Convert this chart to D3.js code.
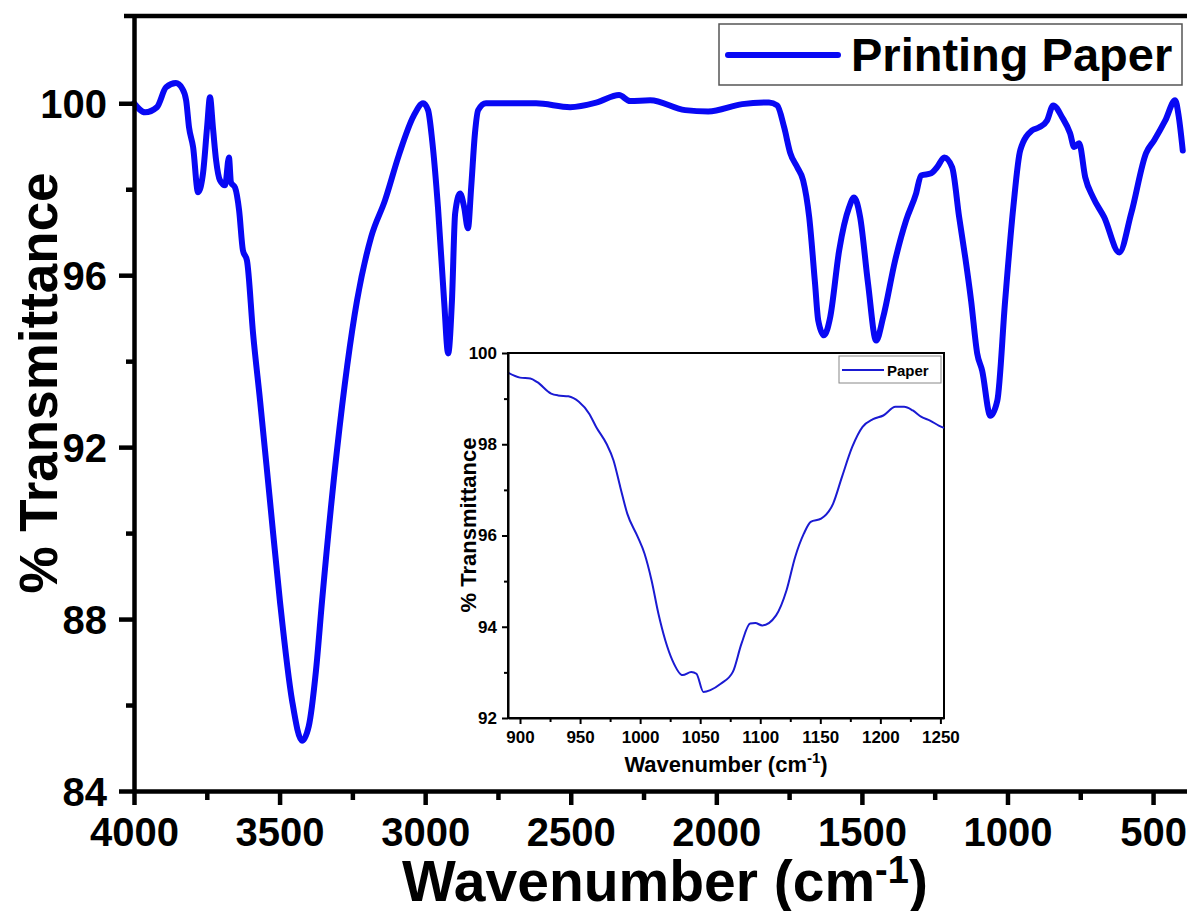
<!DOCTYPE html>
<html>
<head>
<meta charset="utf-8">
<script src="https://cdn.jsdelivr.net/npm/d3@7"></script>
<style>
    body { margin: 0; background: #fff; }
    svg { display: block; font-family: "Liberation Sans", Arial, sans-serif; font-weight: bold; }
</style>
</head>
<body>
<svg id="chart" width="1187" height="911"></svg>
<script>
"use strict";

// main FTIR spectrum (wavenumber, % transmittance)
var mainWavenumber = [4000, 3962, 3921, 3890, 3856, 3835, 3821, 3811, 3797, 3780, 3763, 3749, 3739, 3729, 3718, 3705,
    3687, 3674, 3667, 3653, 3639, 3626, 3612, 3591, 3567, 3533, 3499, 3457, 3423, 3400, 3375, 3354, 3303, 3234, 3185,
    3138, 3090, 3040, 3007, 2990, 2976, 2956, 2935, 2921, 2908, 2897, 2880, 2866, 2853, 2842, 2829, 2818,
    2791, 2619, 2502, 2410, 2334, 2296, 2227, 2107, 2028, 1911, 1819, 1791, 1767, 1746, 1722, 1702, 1681, 1661, 1650,
    1630, 1609, 1578, 1544, 1527, 1506, 1479, 1451, 1427, 1386, 1348, 1314, 1297, 1262, 1242, 1217, 1190, 1166, 1145,
    1125, 1104, 1087, 1059, 1035, 1008, 980, 956, 915, 891, 864, 843, 812, 785, 771, 754, 733, 706, 668, 616, 575, 524,
    496, 458, 424, 412, 398];
var mainTransmittance = [100.0, 99.79, 99.91, 100.37, 100.47, 100.35, 100.07, 99.44, 98.98, 97.93, 98.37, 99.44, 100.14,
    99.44, 98.67, 98.21, 98.09, 98.74, 98.16, 98.04, 97.51, 96.58, 96.34, 94.64, 93.08, 90.75, 88.43, 86.1, 85.17,
    85.5, 86.8, 88.43, 91.92, 95.41, 96.9, 97.74, 98.8, 99.7, 100.0, 99.84, 99.14, 97.58, 95.41, 94.18, 95.41,
    97.44, 97.9, 97.58, 97.09, 98.04, 99.3, 99.84, 100.0, 100.0, 99.91, 100.02, 100.19, 100.05, 100.07, 99.84, 99.81,
    99.98, 100.02, 99.95, 99.44, 98.84, 98.51, 98.21, 97.35, 95.81, 94.95, 94.6, 95.02, 96.58, 97.58, 97.81, 97.35, 95.81,
    94.48, 95.02, 96.34, 97.28, 97.9, 98.32, 98.37, 98.51, 98.74, 98.51, 97.35, 96.41, 95.41, 94.18, 93.78, 92.73, 93.08,
    95.41, 97.58, 98.91, 99.37, 99.44, 99.6, 99.95, 99.67, 99.3, 98.98, 99.07, 98.28, 97.81, 97.35, 96.53, 97.44, 98.84,
    99.14, 99.6, 100.07, 99.7, 98.9];

// inset: 890-1253 cm-1 region
var insetWavenumber = [890, 900, 908.6, 914.4, 925.9, 931.7, 940.3, 949, 957.6, 963.4, 972, 977.8, 983.5, 989.3, 998,
    1003.7, 1009.5, 1015.2, 1021, 1026.8, 1035.4, 1042.6, 1046.9, 1052.7, 1058.5, 1067.1, 1077.2, 1084.4, 1091.6, 1095.9,
    1101.7, 1113.2, 1121.9, 1129.1, 1136.3, 1142, 1150.7, 1160.7, 1168, 1176.6, 1185.2, 1193.9, 1202.5, 1212.6, 1219.8,
    1227, 1234.2, 1241.4, 1248.6, 1253];
var insetTransmittance = [99.57, 99.46, 99.44, 99.36, 99.11, 99.07, 99.05, 98.93, 98.67, 98.38, 98.01, 97.65, 97.06,
    96.48, 95.97, 95.6, 95.02, 94.29, 93.7, 93.27, 92.94, 93.01, 92.97, 92.57, 92.61, 92.75, 93.01, 93.63, 94.07, 94.08,
    94.03, 94.25, 94.8, 95.53, 96.04, 96.3, 96.37, 96.7, 97.28, 97.94, 98.38, 98.55, 98.63, 98.82, 98.82, 98.74, 98.6,
    98.52, 98.41, 98.36];

var mainXTicks = [4000, 3500, 3000, 2500, 2000, 1500, 1000, 500];
var mainXMinor = [3750, 3250, 2750, 2250, 1750, 1250, 750];
var mainYTicks = [84, 88, 92, 96, 100];
var mainYMinor = [86, 90, 94, 98];
var insetXTicks = [900, 950, 1000, 1050, 1100, 1150, 1200, 1250];
var insetXMinor = [925, 975, 1025, 1075, 1125, 1175, 1225];
var insetYTicks = [92, 94, 96, 98, 100];
var insetYMinor = [93, 95, 97, 99];

var mainLabel = "Printing Paper";
var insetLabel = "Paper";

var svg = d3.select("#chart");

// ---- main panel ----
var x = d3.scaleLinear().domain([4000, 380]).range([134, 1188]);
var y = d3.scaleLinear().domain([84, 102.03]).range([791, 16]);

var mainData = mainWavenumber.map(function (w, i) { return [w, mainTransmittance[i]]; });
var insetData = insetWavenumber.map(function (w, i) { return [w, insetTransmittance[i]]; });

var line = d3.line()
    .x(function (d) { return x(d[0]); })
    .y(function (d) { return y(d[1]); })
    .curve(d3.curveMonotoneX)
;

svg.append("path")
    .datum(mainData)
    .attr("d", line)
    .attr("fill", "none")
    .attr("stroke", "#0808f4")
    .attr("stroke-width", 6)
    .attr("stroke-linejoin", "round")
    .attr("stroke-linecap", "round")
;

function styleAxis(g, width, fontSize) {
    g.select(".domain").attr("stroke", "#000").attr("stroke-width", width);
    g.selectAll(".tick line").attr("stroke", "#000").attr("stroke-width", width);
    g.selectAll(".tick text")
        .attr("fill", "#000")
        .style("font-size", fontSize + "px")
        .style("font-weight", "bold")
    ;
}

var xAxis = svg.append("g")
    .attr("transform", "translate(0," + y.range()[0] + ")")
    .call(d3.axisBottom(x).tickValues(mainXTicks).tickSize(14).tickSizeOuter(0).tickPadding(13).tickFormat(d3.format("d")))
;
styleAxis(xAxis, 4.5, 40);
svg.append("g")
    .attr("transform", "translate(0," + y.range()[0] + ")")
    .call(d3.axisBottom(x).tickValues(mainXMinor).tickSize(9).tickFormat(""))
    .call(function (g) { g.select(".domain").remove(); })
    .selectAll("line").attr("stroke", "#000").attr("stroke-width", 4.5)
;

var yAxis = svg.append("g")
    .attr("transform", "translate(" + x.range()[0] + ",0)")
    .call(d3.axisLeft(y).tickValues(mainYTicks).tickSize(15).tickSizeOuter(0).tickPadding(12))
;
styleAxis(yAxis, 4.5, 40);
yAxis.selectAll(".tick text").attr("dy", "0.36em");
svg.append("g")
    .attr("transform", "translate(" + x.range()[0] + ",0)")
    .call(d3.axisLeft(y).tickValues(mainYMinor).tickSize(8).tickFormat(""))
    .call(function (g) { g.select(".domain").remove(); })
    .selectAll("line").attr("stroke", "#000").attr("stroke-width", 4.5)
;

// top frame line
svg.append("line")
    .attr("x1", x.range()[0] - 10).attr("x2", 1187)
    .attr("y1", y.range()[1]).attr("y2", y.range()[1])
    .attr("stroke", "#000").attr("stroke-width", 4.5)
;

svg.append("text")
    .attr("transform", "translate(57,383)rotate(-90)")
    .attr("text-anchor", "middle")
    .style("font-size", "53px")
    .text("% Transmittance")
;

var xTitle = svg.append("text")
    .attr("x", 665).attr("y", 901)
    .attr("text-anchor", "middle")
    .style("font-size", "57px")
;
xTitle.append("tspan").text("Wavenumber (cm");
xTitle.append("tspan").attr("dy", -18).style("font-size", "38px").text("-1");
xTitle.append("tspan").attr("dy", 18).text(")");

// main legend
var legend = svg.append("g");
legend.append("rect")
    .attr("x", 719).attr("y", 24).attr("width", 463).attr("height", 61)
    .attr("fill", "#fff").attr("stroke", "#555").attr("stroke-width", 1.5)
;
legend.append("line")
    .attr("x1", 728).attr("x2", 838).attr("y1", 55).attr("y2", 55)
    .attr("stroke", "#0808f4").attr("stroke-width", 6).attr("stroke-linecap", "round")
;
legend.append("text")
    .attr("x", 851).attr("y", 71)
    .style("font-size", "47px")
    .text(mainLabel)
;

// ---- inset panel ----
var ix = d3.scaleLinear().domain([890, 1253]).range([508, 944]);
var iy = d3.scaleLinear().domain([92, 100]).range([718, 353]);

svg.append("rect")
    .attr("x", ix.range()[0]).attr("y", iy.range()[1])
    .attr("width", ix.range()[1] - ix.range()[0]).attr("height", iy.range()[0] - iy.range()[1])
    .attr("fill", "#fff")
    .attr("stroke", "#000").attr("stroke-width", 2)
;

var insetLine = d3.line()
    .x(function (d) { return ix(d[0]); })
    .y(function (d) { return iy(d[1]); })
    .curve(d3.curveMonotoneX)
;

svg.append("path")
    .datum(insetData)
    .attr("d", insetLine)
    .attr("fill", "none")
    .attr("stroke", "#1a1ad2")
    .attr("stroke-width", 2)
;

var ixAxis = svg.append("g")
    .attr("transform", "translate(0," + iy.range()[0] + ")")
    .call(d3.axisBottom(ix).tickValues(insetXTicks).tickSize(6).tickSizeOuter(0).tickPadding(7).tickFormat(d3.format("d")))
;
styleAxis(ixAxis, 2, 17);
svg.append("g")
    .attr("transform", "translate(0," + iy.range()[0] + ")")
    .call(d3.axisBottom(ix).tickValues(insetXMinor).tickSize(4).tickFormat(""))
    .call(function (g) { g.select(".domain").remove(); })
    .selectAll("line").attr("stroke", "#000").attr("stroke-width", 2)
;

var iyAxis = svg.append("g")
    .attr("transform", "translate(" + ix.range()[0] + ",0)")
    .call(d3.axisLeft(iy).tickValues(insetYTicks).tickSize(6).tickSizeOuter(0).tickPadding(5))
;
styleAxis(iyAxis, 2, 17);
svg.append("g")
    .attr("transform", "translate(" + ix.range()[0] + ",0)")
    .call(d3.axisLeft(iy).tickValues(insetYMinor).tickSize(4).tickFormat(""))
    .call(function (g) { g.select(".domain").remove(); })
    .selectAll("line").attr("stroke", "#000").attr("stroke-width", 2)
;

svg.append("text")
    .attr("transform", "translate(476,525)rotate(-90)")
    .attr("text-anchor", "middle")
    .style("font-size", "22px")
    .text("% Transmittance")
;

var ixTitle = svg.append("text")
    .attr("x", 726).attr("y", 772)
    .attr("text-anchor", "middle")
    .style("font-size", "22px")
;
ixTitle.append("tspan").text("Wavenumber (cm");
ixTitle.append("tspan").attr("dy", -9).style("font-size", "15px").text("-1");
ixTitle.append("tspan").attr("dy", 9).text(")");

// inset legend
var insetLegend = svg.append("g");
insetLegend.append("rect")
    .attr("x", 839).attr("y", 356).attr("width", 102).attr("height", 27)
    .attr("fill", "#fff").attr("stroke", "#888").attr("stroke-width", 1)
;
insetLegend.append("line")
    .attr("x1", 842).attr("x2", 884).attr("y1", 370).attr("y2", 370)
    .attr("stroke", "#1a1ad2").attr("stroke-width", 2)
;
insetLegend.append("text")
    .attr("x", 887).attr("y", 376)
    .style("font-size", "15px")
    .text(insetLabel)
;
</script>
</body>
</html>
